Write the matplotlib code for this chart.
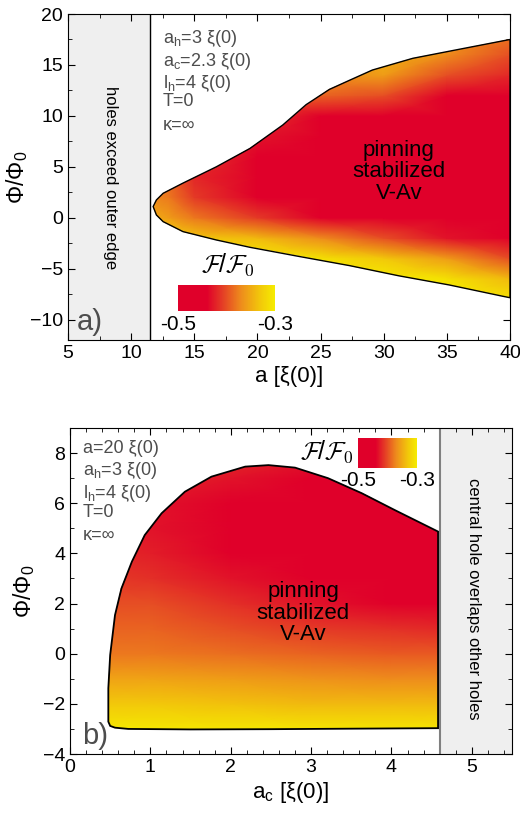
import numpy as np
import matplotlib
matplotlib.use("Agg")
import matplotlib.pyplot as plt
from matplotlib.colors import LinearSegmentedColormap, Normalize
from matplotlib.cm import ScalarMappable
from matplotlib.patches import Polygon
from matplotlib.ticker import MultipleLocator

plt.rcParams['font.family'] = ['Liberation Sans', 'DejaVu Sans']
plt.rcParams['mathtext.fontset'] = 'custom'
plt.rcParams['mathtext.rm'] = 'Liberation Sans'
plt.rcParams['mathtext.it'] = 'Liberation Sans:italic'

# panel a: boundary of the pinning-stabilized state
a_up = [11.74, 12.0, 12.53, 14.1, 16.74, 19.4, 22.0, 23.85, 25.7, 27.3, 29.1, 32.3, 35.7, 40.0]
phi_up = [1.1, 1.75, 2.4, 3.4, 5.0, 6.8, 9.1, 11.1, 12.6, 13.5, 14.5, 15.65, 16.47, 17.5]
a_lo = [11.74, 12.0, 12.53, 14.1, 16.74, 19.4, 23.3, 27.3, 31.2, 35.2, 39.4, 40.0]
phi_lo = [1.1, 0.27, -0.38, -1.36, -2.18, -2.9, -3.8, -4.7, -5.7, -6.6, -7.7, -7.85]

# panel a: free energy F/F0 on a coarse grid (rows = phi, cols = a)
a_grid = [11.5, 13, 15, 20, 25, 30, 35, 40]
phi_grid_a = [-8, -6, -4, -2, 0, 2, 4, 6, 8, 10, 12, 14, 16, 18]
F_a = [
    [-0.30, -0.30, -0.30, -0.30, -0.30, -0.30, -0.30, -0.31],
    [-0.30, -0.30, -0.30, -0.30, -0.30, -0.30, -0.31, -0.34],
    [-0.30, -0.30, -0.30, -0.30, -0.31, -0.33, -0.36, -0.40],
    [-0.31, -0.32, -0.33, -0.34, -0.37, -0.40, -0.43, -0.45],
    [-0.35, -0.36, -0.38, -0.41, -0.44, -0.46, -0.48, -0.49],
    [-0.37, -0.38, -0.41, -0.45, -0.48, -0.50, -0.50, -0.50],
    [-0.38, -0.39, -0.42, -0.47, -0.50, -0.50, -0.50, -0.50],
    [-0.38, -0.39, -0.41, -0.46, -0.50, -0.50, -0.50, -0.50],
    [-0.38, -0.39, -0.40, -0.43, -0.48, -0.50, -0.50, -0.50],
    [-0.38, -0.39, -0.40, -0.41, -0.44, -0.46, -0.49, -0.49],
    [-0.38, -0.39, -0.40, -0.40, -0.39, -0.40, -0.44, -0.44],
    [-0.38, -0.39, -0.40, -0.40, -0.37, -0.36, -0.40, -0.42],
    [-0.38, -0.39, -0.40, -0.40, -0.37, -0.34, -0.37, -0.40],
    [-0.38, -0.39, -0.40, -0.40, -0.37, -0.34, -0.36, -0.38],
]

# panel b: boundary
b_up_ac = [0.477, 0.477, 0.5, 0.56, 0.64, 0.77, 0.93, 1.14, 1.43, 1.76, 2.18, 2.47, 2.8, 3.21, 3.63, 4.04, 4.58]
b_up_phi = [-2.71, -1.38, -0.05, 1.54, 2.6, 3.67, 4.73, 5.6, 6.46, 7.06, 7.46, 7.52, 7.42, 7.0, 6.4, 5.73, 4.87]
b_lo_ac = [0.477, 0.5, 0.56, 0.725, 1.5, 2.5, 3.5, 4.58]
b_lo_phi = [-2.71, -2.88, -2.95, -3.0, -3.02, -3.01, -2.99, -2.97]

ac_grid = [0.4, 1, 2, 3, 4, 4.7]
phi_grid_b = [-3.2, -2, -1, 0, 1, 2, 3, 4, 5, 6, 7, 7.7]
F_b = [
    [-0.30, -0.30, -0.30, -0.30, -0.30, -0.30],
    [-0.33, -0.33, -0.335, -0.34, -0.34, -0.34],
    [-0.355, -0.355, -0.36, -0.365, -0.37, -0.37],
    [-0.38, -0.38, -0.385, -0.39, -0.395, -0.395],
    [-0.39, -0.39, -0.40, -0.41, -0.415, -0.42],
    [-0.40, -0.40, -0.415, -0.43, -0.45, -0.45],
    [-0.41, -0.415, -0.43, -0.46, -0.48, -0.48],
    [-0.42, -0.425, -0.45, -0.48, -0.50, -0.50],
    [-0.42, -0.43, -0.46, -0.49, -0.50, -0.50],
    [-0.42, -0.43, -0.45, -0.47, -0.49, -0.49],
    [-0.41, -0.42, -0.43, -0.44, -0.46, -0.46],
    [-0.40, -0.41, -0.42, -0.43, -0.45, -0.45],
]

params_a = [r'a$_\mathrm{h}$=3 ξ(0)', r'a$_\mathrm{c}$=2.3 ξ(0)', r'l$_\mathrm{h}$=4 ξ(0)', 'T=0', 'κ=∞']
params_b = ['a=20 ξ(0)', r'a$_\mathrm{h}$=3 ξ(0)', r'l$_\mathrm{h}$=4 ξ(0)', 'T=0', 'κ=∞']

cmap = LinearSegmentedColormap.from_list('ry', [
    (0.0, '#e0002a'), (0.3, '#e0002a'), (0.45, '#e43a26'),
    (0.65, '#ee8c1c'), (0.85, '#f2c80a'), (1.0, '#f5ec00')])
norm = Normalize(-0.5, -0.3)
grey = '#4d4d4d'
flabel = r'$\mathcal{F}$/$\mathcal{F}$$_0$'

fig = plt.figure(figsize=(5.2, 8.14), dpi=100)
ax1 = fig.add_axes([0.1308, 0.5823, 0.85, 0.4005])
ax2 = fig.add_axes([0.1346, 0.0737, 0.85, 0.4005])


def style(ax):
    ax.tick_params(which='both', direction='in', top=True, right=True, labelsize=14)
    ax.tick_params(which='major', length=5)
    ax.tick_params(which='minor', length=3)


# ---- panel a ----
ax1.axvspan(5, 11.5, color='#efefef', zorder=0)
ax1.axvline(11.5, color='black', lw=1)
verts = list(zip(a_up, phi_up)) + list(zip(a_lo[::-1], phi_lo[::-1]))
poly = Polygon(verts, closed=True, facecolor='none', edgecolor='black', lw=1, zorder=3)
ax1.add_patch(poly)
mesh = ax1.pcolormesh(a_grid, phi_grid_a, np.array(F_a), cmap=cmap, norm=norm, shading='gouraud', zorder=2)
mesh.set_clip_path(poly)
ax1.set_xlim(5, 40)
ax1.set_ylim(-12, 20)
ax1.xaxis.set_major_locator(MultipleLocator(5))
ax1.xaxis.set_minor_locator(MultipleLocator(2.5))
ax1.yaxis.set_major_locator(MultipleLocator(5))
ax1.yaxis.set_minor_locator(MultipleLocator(2.5))
style(ax1)
ax1.set_xlabel('a [ξ(0)]', fontsize=16, labelpad=3)
ax1.set_ylabel(r'Φ/Φ$_0$', fontsize=16.5, labelpad=0)
for txt, y in zip(params_a, [17.6, 15.3, 13.2, 11.4, 9.1]):
    ax1.text(12.5, y, txt, fontsize=13, color=grey, va='center')
ax1.text(8.4, 3.9, 'holes exceed outer edge', rotation=-90, fontsize=12, ha='center', va='center')
ax1.text(31.2, 4.5, 'pinning\nstabilized\nV-Av', fontsize=16, ha='center', va='center', linespacing=1.05)
ax1.text(5.7, -10.2, 'a)', fontsize=21, color=grey, va='center')

cax1 = fig.add_axes([178 / 520, 1 - 311 / 814, 97 / 520, 26 / 814])
cb1 = fig.colorbar(ScalarMappable(norm=norm, cmap=cmap), cax=cax1, orientation='horizontal', ticks=[-0.5, -0.3])
cb1.outline.set_visible(False)
cb1.ax.tick_params(length=0, labelsize=15, pad=3)
cb1.ax.set_xticklabels(['-0.5', '-0.3'])
fig.text(228 / 520, 1 - 265 / 814, flabel, fontsize=18, ha='center', va='center', math_fontfamily='cm')

# ---- panel b ----
ax2.axvspan(4.6, 5.5, color='#efefef', zorder=0)
ax2.axvline(4.6, color='#808080', lw=1.5)
verts_b = list(zip(b_up_ac, b_up_phi)) + list(zip(b_lo_ac[::-1], b_lo_phi[::-1]))
poly_b = Polygon(verts_b, closed=True, facecolor='none', edgecolor='black', lw=1.3, zorder=3)
ax2.add_patch(poly_b)
mesh_b = ax2.pcolormesh(ac_grid, phi_grid_b, np.array(F_b), cmap=cmap, norm=norm, shading='gouraud', zorder=2)
mesh_b.set_clip_path(poly_b)
ax2.set_xlim(0, 5.5)
ax2.set_ylim(-4, 9)
ax2.xaxis.set_major_locator(MultipleLocator(1))
ax2.xaxis.set_minor_locator(MultipleLocator(0.2))
ax2.yaxis.set_major_locator(MultipleLocator(2))
ax2.yaxis.set_minor_locator(MultipleLocator(1))
style(ax2)
ax2.set_xlabel(r'a$_\mathrm{c}$ [ξ(0)]', fontsize=16, labelpad=3)
ax2.set_ylabel(r'Φ/Φ$_0$', fontsize=16.5, labelpad=4)
for txt, y in zip(params_b, [8.2, 7.3, 6.4, 5.65, 4.7]):
    ax2.text(0.16, y, txt, fontsize=13, color=grey, va='center')
ax2.text(5.02, 2.18, 'central hole overlaps other holes', rotation=-90, fontsize=12, ha='center', va='center')
ax2.text(2.9, 1.62, 'pinning\nstabilized\nV-Av', fontsize=16, ha='center', va='center', linespacing=1.05)
ax2.text(0.15, -3.3, 'b)', fontsize=21, color=grey, va='center')

cax2 = fig.add_axes([358 / 520, 1 - 468 / 814, 59 / 520, 30 / 814])
cb2 = fig.colorbar(ScalarMappable(norm=norm, cmap=cmap), cax=cax2, orientation='horizontal', ticks=[-0.5, -0.3])
cb2.outline.set_visible(False)
cb2.ax.tick_params(length=0, labelsize=15, pad=2)
cb2.ax.set_xticklabels(['-0.5', '-0.3'])
fig.text(327 / 520, 1 - 452 / 814, flabel, fontsize=18, ha='center', va='center', math_fontfamily='cm')

fig.savefig('out.png', dpi=100)
